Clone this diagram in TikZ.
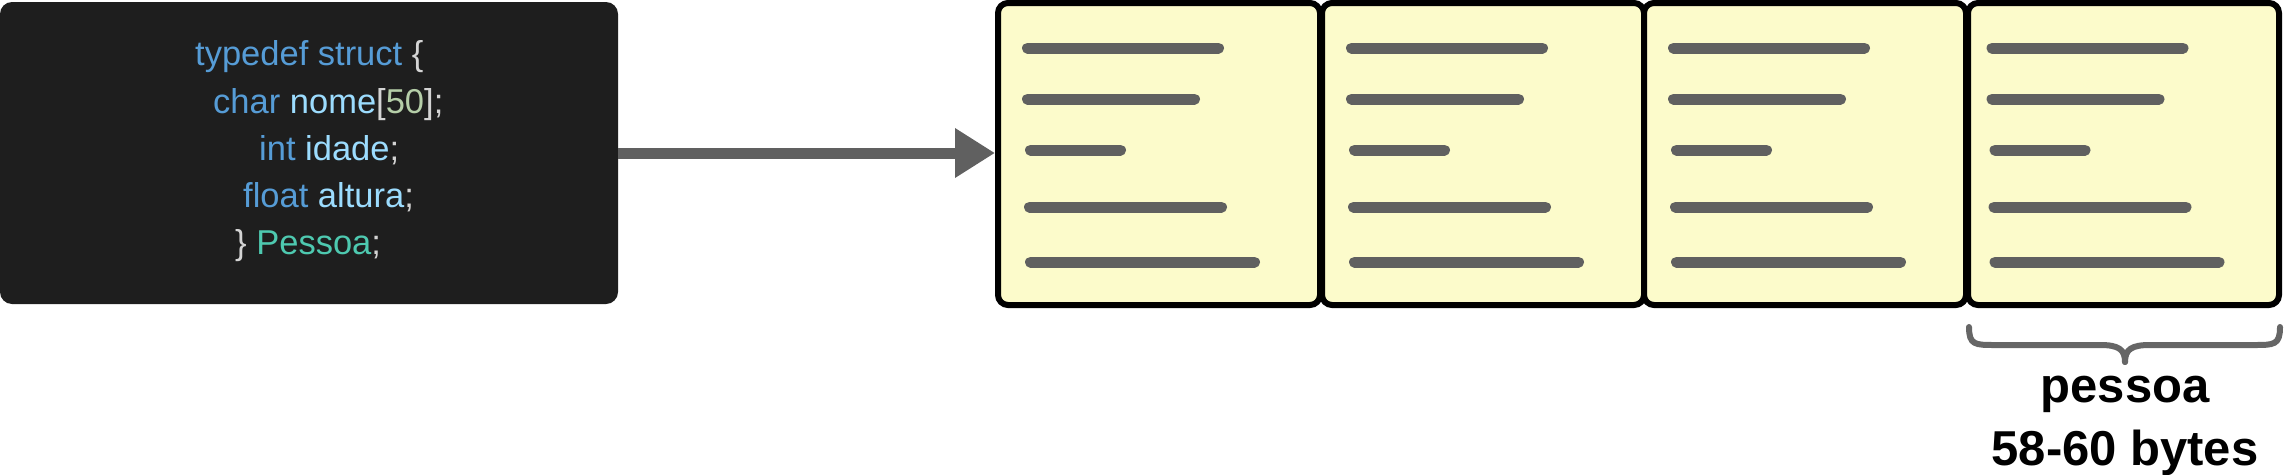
\documentclass[tikz,border=0pt]{standalone}
\usepackage{fontspec}
\setmainfont{Liberation Sans}
\usetikzlibrary{arrows.meta}
\definecolor{codebg}{HTML}{1E1E1E}
\definecolor{kw}{HTML}{569CD6}
\definecolor{ident}{HTML}{9CDCFE}
\definecolor{punct}{HTML}{D4D4D4}
\definecolor{numcol}{HTML}{B5CEA8}
\definecolor{typcol}{HTML}{4EC9B0}
\definecolor{cardfill}{HTML}{FCFBCB}
\definecolor{bargray}{HTML}{606060}
\definecolor{bracegray}{HTML}{666666}
\tikzset{
  codebox/.style={fill=codebg, rounded corners=12pt, minimum width=618pt, minimum height=302pt, inner sep=0pt},
  codeline/.style={inner sep=0pt, anchor=base west, font=\fontsize{34.5}{40}\selectfont},
  card/.style={draw=black, line width=6pt, fill=cardfill, rounded corners=10pt, minimum height=302pt, inner sep=0pt},
  bar/.style={draw=bargray, line width=11pt, line cap=round},
  arrowline/.style={draw=bargray, line width=11pt, -{Triangle[length=40pt,width=47pt]}},
  bracestyle/.style={draw=bracegray, line width=6pt, line cap=round},
  lbl/.style={inner sep=0pt, anchor=base, font=\bfseries\fontsize{49}{55}\selectfont}
}
\begin{document}
\begin{tikzpicture}[x=1pt,y=-1pt]
\useasboundingbox (0,0) rectangle (2284,474);
% code box
\node[codebox] (code) at (309,153) {};
\node[codeline] (l1) at (195,65) {\color{kw}typedef struct \color{punct}\{};
\node[codeline] (l2) at (213,113) {\color{kw}char \color{ident}nome\color{punct}[\color{numcol}50\color{punct}];};
\node[codeline] (l3) at (259,160) {\color{kw}int \color{ident}idade\color{punct};};
\node[codeline] (l4) at (243,207) {\color{kw}float \color{ident}altura\color{punct};};
\node[codeline] (l5) at (235,254) {\color{punct}\} \color{typcol}Pessoa\color{punct};};
% cards
\node[card, minimum width=322pt] (card1) at (1159,154) {};
\node[card, minimum width=322pt] (card2) at (1483,154) {};
\node[card, minimum width=322pt] (card3) at (1805,154) {};
\node[card, minimum width=311pt] (card4) at (2123.5,154) {};
% bars
\foreach \c in {card1,card2,card3,card4}{
  \draw[bar] ([shift={(-131.5,-106)}]\c.center) -- ([shift={(59.5,-106)}]\c.center);
  \draw[bar] ([shift={(-131.5,-55)}]\c.center) -- ([shift={(35.5,-55)}]\c.center);
  \draw[bar] ([shift={(-128.5,-4)}]\c.center) -- ([shift={(-38.5,-4)}]\c.center);
  \draw[bar] ([shift={(-129.5,53)}]\c.center) -- ([shift={(62.5,53)}]\c.center);
  \draw[bar] ([shift={(-128.5,108)}]\c.center) -- ([shift={(95.5,108)}]\c.center);
}
% arrow
\draw[arrowline] (code.east) -- (code.east -| card1.west);
% brace
\coordinate (bl) at (1969,327);
\coordinate (br) at (2280,327);
\coordinate (bm) at (2125,362);
\draw[bracestyle] (bl) .. controls (1969,345) and (1975,345) .. (1995,345) -- (2100,345) .. controls (2118,345) and (2125,349) .. (bm);
\draw[bracestyle] (br) .. controls (2280,345) and (2274,345) .. (2254,345) -- (2150,345) .. controls (2132,345) and (2125,349) .. (bm);
% labels
\node[lbl] (lbl1) at (2125,402) {pessoa};
\node[lbl] (lbl2) at (2125,465) {58-60 bytes};
\end{tikzpicture}
\end{document}
